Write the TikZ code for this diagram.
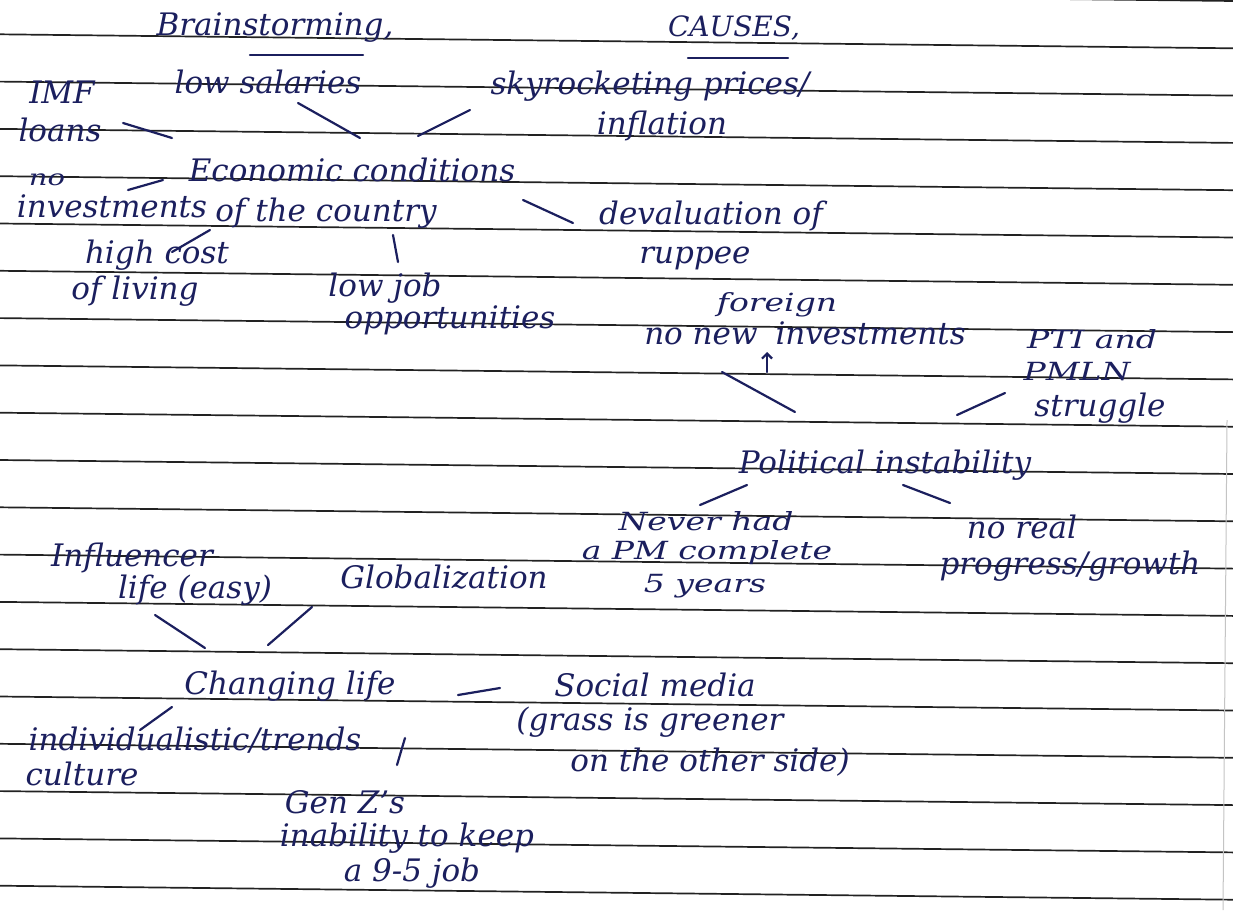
\documentclass[tikz,border=0pt]{standalone}
\usepackage{fontspec}
\setmainfont{DejaVu Serif}
\newfontfamily\widehand[FakeStretch=1.32]{DejaVu Serif}
\usetikzlibrary{calc,positioning,arrows.meta}
\definecolor{ink}{HTML}{1B1F5E}
\definecolor{rule}{HTML}{222222}
\definecolor{margin}{HTML}{C4C4C4}
\tikzset{
  hand/.style={font=\fontsize{31}{34}\selectfont\itshape, text=ink, inner sep=0pt},
  handwide/.style={hand, font=\fontsize{25}{28}\widehand\itshape},
  handtiny/.style={hand, font=\fontsize{22}{24}\widehand\itshape},
  pen/.style={draw=ink, line width=2.2pt, line cap=round},
  ruling/.style={draw=rule, line width=1.7pt},
}
\begin{document}
\begin{tikzpicture}[x=1pt,y=-1pt]
  \fill[white] (0,0) rectangle (1233,910);
  \useasboundingbox (0,0) rectangle (1233,910);
  % ruled sheet
  \foreach \k in {0,...,19}
    \draw[ruling] (0,{47.3*\k-13}) -- (1233,{47.3*\k+1});
  \draw[margin, line width=1pt] (1227,420) -- (1223,910);

  % headings
  \node[hand] (brain) at (275,28) {Brainstorming,};
  \node[hand, font=\fontsize{28}{30}\selectfont\itshape] (causes) at (734,28) {CAUSES,};
  \draw[pen] ($(brain)+(-25,27)$) -- ($(brain)+(88,27)$);
  \draw[pen] ($(causes)+(-46,30)$) -- ($(causes)+(54,30)$);

  % economic conditions
  \node[hand] (imf) at (62,92) {IMF};
  \node[hand] (loans) at (60,130) {loans};
  \node[hand] (salaries) at (268,82) {low salaries};
  \node[hand] (prices) at (650,86) {skyrocketing prices/};
  \node[hand] (inflation) at (662,126) {inflation};
  \node[hand] (econ) at (352,170) {Economic conditions};
  \node[hand] (country) at (326,213) {of the country};
  \node[handtiny] (noinv) at (47,180) {no};
  \node[hand] (invest) at (112,206) {investments};
  \node[hand] (deval) at (711,216) {devaluation of};
  \node[hand] (rupee) at (695,258) {ruppee};
  \node[hand] (highcost) at (157,255) {high cost};
  \node[hand] (living) at (135,291) {of living};
  \node[hand] (lowjob) at (385,288) {low job};
  \node[hand] (opps) at (450,320) {opportunities};

  \draw[pen] ($(loans)+(63,-7)$) -- ($(econ)+(-180,-32)$);
  \draw[pen] ($(salaries)+(30,21)$) -- ($(econ)+(8,-32)$);
  \draw[pen] ($(econ)+(66,-34)$) -- ($(prices)+(-180,24)$);
  \draw[pen] ($(noinv)+(81,10)$) -- ($(econ)+(-189,10)$);
  \draw[pen] ($(country)+(197,-13)$) -- ($(deval)+(-138,7)$);
  \draw[pen] ($(country)+(-116,17)$) -- ($(highcost)+(15,-3)$);
  \draw[pen] ($(country)+(67,22)$) -- ($(lowjob)+(13,-26)$);

  % political instability
  \node[handwide] (foreign) at (777,305) {foreign};
  \node[hand] (newinv) at (805,333) {no new\hspace{18pt}investments};
  \node[handwide] (pti) at (1092,339) {PTI and};
  \node[handwide] (pmln) at (1077,372) {PMLN};
  \node[hand] (struggle) at (1100,408) {struggle};
  \node[hand] (polit) at (885,465) {Political instability};
  \node[handwide] (never) at (706,521) {Never had};
  \node[handwide] (pm) at (707,553) {a PM complete};
  \node[handwide] (years) at (705,586) {5 years};
  \node[hand] (noreal) at (1022,527) {no real};
  \node[hand] (progress) at (1070,566) {progress/growth};

  \draw[pen, -{Straight Barb[length=5pt]}] ($(newinv)+(-38,39)$) -- ($(foreign)+(-10,47)$);
  \draw[pen] ($(newinv)+(-83,39)$) -- ($(polit)+(-90,-53)$);
  \draw[pen] ($(struggle)+(-95,-15)$) -- ($(polit)+(72,-50)$);
  \draw[pen] ($(polit)+(-138,20)$) -- ($(never)+(-6,-16)$);
  \draw[pen] ($(polit)+(18,20)$) -- ($(noreal)+(-72,-24)$);

  % changing life trends
  \node[hand] (influencer) at (132,558) {Influencer};
  \node[hand] (easy) at (195,590) {life (easy)};
  \node[hand] (global) at (444,577) {Globalization};
  \node[hand] (changing) at (290,686) {Changing life};
  \node[hand] (social) at (655,685) {Social media};
  \node[hand] (grass) at (650,722) {(grass is greener};
  \node[hand] (otherside) at (710,762) {on the other side)};
  \node[hand] (individ) at (195,740) {individualistic/trends};
  \node[hand] (culture) at (82,774) {culture};
  \node[hand] (genz) at (345,802) {Gen Z's};
  \node[hand] (inability) at (407,838) {inability to keep};
  \node[hand] (ninefive) at (412,873) {a 9-5 job};

  \draw[pen] ($(easy)+(-40,25)$) -- ($(changing)+(-85,-38)$);
  \draw[pen] ($(global)+(-132,30)$) -- ($(changing)+(-22,-41)$);
  \draw[pen] ($(social)+(-155,3)$) -- ($(changing)+(168,9)$);
  \draw[pen] ($(individ)+(-55,-10)$) -- ($(changing)+(-118,21)$);
  \draw[pen] ($(individ)+(210,-2)$) -- ($(genz)+(52,-37)$);
\end{tikzpicture}
\end{document}
